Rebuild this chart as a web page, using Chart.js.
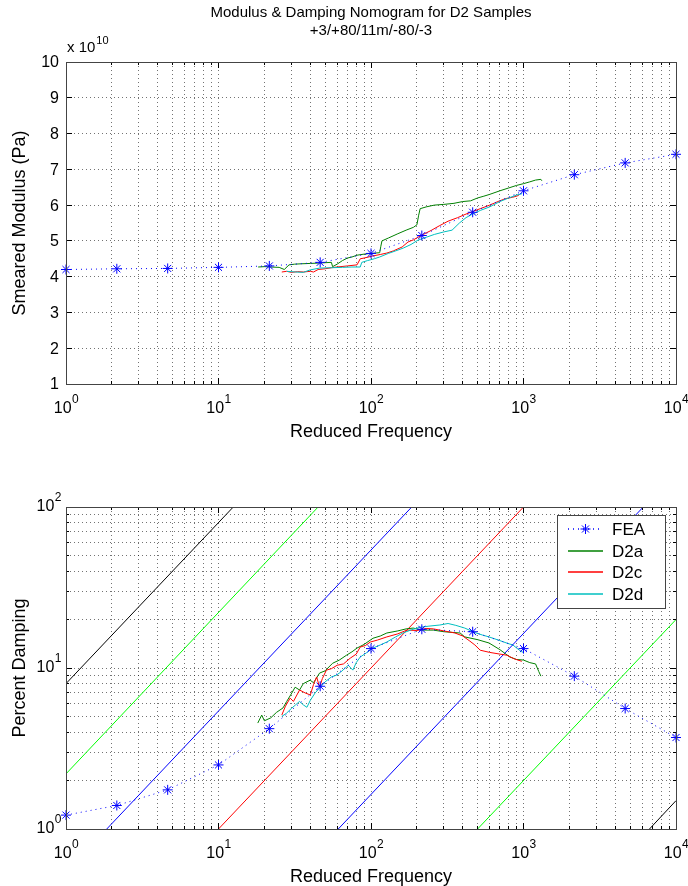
<!DOCTYPE html>
<html>
<head>
<meta charset="utf-8">
<script src="https://cdn.jsdelivr.net/npm/chart.js@4.4.1/dist/chart.umd.min.js"></script>
<style>
  body { margin: 0; background: #fff; }
  canvas { position: absolute; left: 0; }
</style>
</head>
<body>
<canvas id="modulus" width="688" height="443" style="top:0"></canvas>
<canvas id="damping" width="688" height="443" style="top:443px"></canvas>
<script>
// Texts
var titleLines = ['Modulus & Damping Nomogram for D2 Samples', '+3/+80/11m/-80/-3'];
var xTitle = 'Reduced Frequency';
var modTitle = 'Smeared Modulus (Pa)';
var dampTitle = 'Percent Damping';
var modScaleNote = ['x 10', '10'];
var seriesNames = ['FEA', 'D2a', 'D2c', 'D2d'];

// Ticks
var decadeSteps = [1, 2, 3, 4, 5, 6, 7, 8, 9];
var freqMajor = [1, 10, 100, 1000, 10000];
var freqExponents = ['0', '1', '2', '3', '4'];
var modTicks = [1, 2, 3, 4, 5, 6, 7, 8, 9, 10];
var dampMajor = [1, 10, 100];
var dampExponents = ['0', '1', '2'];

// FEA model (one point every 1/3 decade)
var feaFreq = [1, 2.154, 4.642, 10, 21.54, 46.42, 100, 215.4, 464.2, 1000, 2154, 4642, 10000];
var feaModulus = [4.2, 4.22, 4.23, 4.26, 4.3, 4.4, 4.65, 5.15, 5.8, 6.4, 6.85, 7.18, 7.42];
var feaDamping = [1.22, 1.4, 1.75, 2.5, 4.2, 7.7, 13.2, 17.4, 16.8, 13.2, 8.9, 5.6, 3.7];

// Measured modulus (freq, x1e10 Pa)
var d2aModulus = [[18.2, 4.27], [20, 4.28], [22, 4.27], [25, 4.26], [27, 4.2], [29, 4.33], [31.6, 4.35],
  [35, 4.36], [40, 4.37], [45, 4.38], [50, 4.39], [55, 4.4], [56, 4.28], [60, 4.35], [65, 4.45],
  [70, 4.52], [75, 4.55], [81, 4.6], [90, 4.63], [100, 4.65], [114, 4.67], [116, 4.85], [118, 5.0],
  [130, 5.08], [150, 5.2], [170, 5.3], [190, 5.38], [200, 5.45], [205, 5.7], [210, 5.9], [230, 5.95],
  [260, 6.0], [300, 6.02], [350, 6.05], [400, 6.1], [450, 6.12], [500, 6.2], [550, 6.25], [600, 6.3],
  [700, 6.4], [800, 6.48], [900, 6.55], [1000, 6.6], [1100, 6.65], [1200, 6.7], [1300, 6.72], [1320, 6.68]];
var d2cModulus = [[26, 4.13], [28, 4.15], [30, 4.12], [33, 4.14], [36, 4.13], [40, 4.15], [42, 4.13],
  [45, 4.2], [50, 4.22], [55, 4.25], [60, 4.27], [70, 4.3], [81, 4.33], [85, 4.5], [90, 4.52],
  [103, 4.58], [115, 4.62], [127, 4.66], [140, 4.72], [160, 4.83], [175, 4.97], [190, 5.03], [203, 5.1],
  [220, 5.18], [250, 5.3], [280, 5.42], [320, 5.55], [370, 5.65], [420, 5.75], [464, 5.82], [520, 5.9],
  [600, 6.0], [680, 6.1], [760, 6.18], [850, 6.22], [930, 6.27]];
var d2dModulus = [[28, 4.15], [32, 4.13], [36, 4.12], [40, 4.19], [46, 4.24], [55, 4.25], [65, 4.26],
  [75, 4.27], [85, 4.27], [87, 4.4], [95, 4.45], [105, 4.5], [114, 4.55], [130, 4.65], [145, 4.72],
  [163, 4.8], [183, 4.9], [203, 5.02], [230, 5.1], [260, 5.18], [300, 5.25], [340, 5.3], [380, 5.5],
  [420, 5.65], [464, 5.75], [520, 5.85], [600, 5.95], [700, 6.1], [800, 6.2], [900, 6.28], [980, 6.32]];

// Measured damping (freq, %)
var d2aDamping = [[18.1, 4.55], [19.2, 5.1], [20, 4.7], [22, 4.9], [24, 5.3], [26.5, 5.65], [28, 6.2],
  [30, 6.9], [31.8, 7.6], [34, 7.3], [36, 8.0], [39.9, 8.4], [42, 8.1], [46, 9.3], [50, 9.6], [56, 10.7],
  [62, 11.2], [69, 12.0], [75, 12.6], [81, 13.3], [90, 14.0], [103, 15.3], [115, 15.8], [127, 16.5],
  [150, 17.0], [170, 17.5], [189, 17.7], [215, 17.2], [256, 17.2], [300, 16.8], [384, 16.5], [412, 15.6],
  [500, 15.0], [594, 14.3], [700, 13.0], [814, 11.7], [900, 11.3], [1000, 11.2], [1100, 10.8],
  [1200, 10.6], [1260, 9.5], [1300, 8.9]];
var d2cDamping = [[26, 5.1], [27.5, 5.8], [29.5, 6.5], [31, 6.2], [34, 7.3], [37, 7.0], [40, 6.8],
  [42, 7.9], [44, 8.8], [46, 7.6], [48, 8.6], [51, 9.7], [55, 9.9], [60, 10.4], [66, 10.6], [73, 11.5],
  [80, 12.2], [85, 13.5], [92, 13.8], [99, 14.5], [110, 14.9], [127, 15.6], [150, 16.3], [172, 17.2],
  [200, 17.1], [230, 17.6], [256, 17.5], [300, 17.0], [355, 16.5], [400, 15.8], [440, 14.8], [480, 13.9],
  [520, 12.9], [600, 12.5], [700, 12.2], [780, 12.0], [870, 11.4], [975, 11.0]];
var d2dDamping = [[26, 5.0], [28, 5.25], [30, 5.6], [32, 5.9], [34, 6.2], [36, 5.9], [38, 5.7], [40, 6.3],
  [43, 7.0], [46, 7.5], [50, 8.2], [55, 8.8], [59, 9.0], [63, 9.4], [67, 9.9], [71, 10.4], [76, 9.7],
  [80, 10.8], [85, 11.7], [93, 12.4], [103, 13.3], [115, 13.9], [127, 14.5], [145, 15.6], [162, 16.5],
  [185, 17.3], [209, 17.9], [240, 18.2], [283, 18.5], [320, 18.9], [360, 18.4], [412, 17.7], [480, 16.6],
  [540, 16.0], [594, 15.6], [700, 14.8], [790, 14.2], [852, 13.9], [920, 13.1], [975, 12.6], [1000, 12.5]];

// Nomogram guide lines (end points read on the frame)
var guideBlackA = [[1, 8], [12.5, 100]];
var guideGreenA = [[1, 2.2], [45, 100]];
var guideBlueA = [[1.85, 1], [185, 100]];
var guideRed = [[10, 1], [1000, 100]];
var guideBlueB = [[61, 1], [6100, 100]];
var guideGreenB = [[500, 1], [10000, 20]];
var guideBlackB = [[6700, 1], [10000, 1.5]];

var FONT = '"Liberation Sans", Arial, sans-serif';

function toXY(pts) {
  return pts.map(function (p) { return { x: p[0], y: p[1] }; });
}
function logTickValues(majors) {
  var out = [];
  majors.forEach(function (m, i) {
    if (i < majors.length - 1) decadeSteps.forEach(function (s) { out.push(m * s); });
    else out.push(m);
  });
  return out;
}
function setTicks(values) {
  return function (scale) {
    scale.ticks = values.map(function (v) { return { value: v }; });
  };
}
function alignPx(p) { return Math.round(p - 0.5) + 0.5; }

function drawPower(ctx, exp, x, y, align) {
  ctx.font = '16px ' + FONT;
  var wb = ctx.measureText('10').width;
  ctx.font = '12px ' + FONT;
  var we = ctx.measureText(exp).width;
  var start = align === 'center' ? x - (wb + we) / 2 : x - (wb + we);
  ctx.textAlign = 'left';
  ctx.textBaseline = 'alphabetic';
  ctx.font = '16px ' + FONT;
  ctx.fillText('10', start, y);
  ctx.font = '12px ' + FONT;
  ctx.fillText(exp, start + wb + 0.5, y - 10);
}

// Matlab style frame: box, inward ticks, labels, titles, legend
function matlabAxes(o) {
  return {
    id: 'matlabAxes',
    afterDraw: function (chart) {
      var ctx = chart.ctx, a = chart.chartArea;
      var xs = chart.scales.x, ys = chart.scales.y;
      ctx.save();
      ctx.strokeStyle = '#000';
      ctx.lineWidth = 1;
      ctx.setLineDash([]);
      ctx.beginPath();
      xs.ticks.forEach(function (t) {
        var px = alignPx(xs.getPixelForValue(t.value));
        var len = freqMajor.indexOf(t.value) >= 0 ? 6 : 3;
        ctx.moveTo(px, a.bottom); ctx.lineTo(px, a.bottom - len);
        ctx.moveTo(px, a.top); ctx.lineTo(px, a.top + len);
      });
      ys.ticks.forEach(function (t) {
        var py = alignPx(ys.getPixelForValue(t.value));
        var len = o.yMajor.indexOf(t.value) >= 0 ? 6 : 3;
        ctx.moveTo(a.left, py); ctx.lineTo(a.left + len, py);
        ctx.moveTo(a.right, py); ctx.lineTo(a.right - len, py);
      });
      ctx.stroke();
      ctx.strokeStyle = '#444';
      ctx.strokeRect(alignPx(a.left), alignPx(a.top), Math.round(a.right - a.left), Math.round(a.bottom - a.top));

      ctx.fillStyle = '#000';
      // x tick labels
      freqMajor.forEach(function (v, i) {
        drawPower(ctx, freqExponents[i], xs.getPixelForValue(v), a.bottom + 29, 'center');
      });
      // y tick labels
      if (o.yLog) {
        o.yMajor.forEach(function (v, i) {
          drawPower(ctx, o.yExponents[i], a.left - 5, ys.getPixelForValue(v) + 4, 'right');
        });
      } else {
        ctx.font = '16px ' + FONT;
        ctx.textAlign = 'right';
        ctx.textBaseline = 'middle';
        o.yMajor.forEach(function (v) {
          ctx.fillText(String(v), a.left - 7, ys.getPixelForValue(v) + 1);
        });
      }
      // axis titles
      var cx = (a.left + a.right) / 2, cy = (a.top + a.bottom) / 2;
      ctx.font = '18px ' + FONT;
      ctx.textAlign = 'center';
      ctx.textBaseline = 'middle';
      ctx.fillText(xTitle, cx, a.bottom + 48);
      ctx.save();
      ctx.translate(20, cy);
      ctx.rotate(-Math.PI / 2);
      ctx.fillText(o.yTitle, 0, 0);
      ctx.restore();
      // chart title and exponent note
      if (o.title) {
        ctx.font = '15px ' + FONT;
        ctx.fillText(o.title[0], cx, 13);
        ctx.fillText(o.title[1], cx, 31);
      }
      if (o.note) {
        ctx.textAlign = 'left';
        ctx.textBaseline = 'alphabetic';
        ctx.font = '15px ' + FONT;
        ctx.fillText(o.note[0], a.left + 1, a.top - 10);
        var w = ctx.measureText(o.note[0]).width;
        ctx.font = '11px ' + FONT;
        ctx.fillText(o.note[1], a.left + 2 + w, a.top - 18);
      }
      // legend
      if (o.legend) {
        var lw = 108, lh = 93;
        var lx = a.right - 11 - lw, ly = a.top + 8;
        ctx.fillStyle = '#fff';
        ctx.fillRect(lx, ly, lw, lh);
        ctx.strokeStyle = '#444';
        ctx.strokeRect(alignPx(lx), alignPx(ly), lw, lh);
        o.legend.forEach(function (dsIndex, i) {
          var ds = chart.data.datasets[dsIndex];
          var y = Math.round(ly + 14 + i * 21.7);
          ctx.strokeStyle = ds.borderColor;
          ctx.lineWidth = 1.5;
          ctx.setLineDash(ds.borderDash || []);
          ctx.beginPath();
          ctx.moveTo(lx + 11, y); ctx.lineTo(lx + 46, y);
          ctx.stroke();
          ctx.setLineDash([]);
          ctx.lineWidth = 1;
          if (ds.pointRadius > 0) {
            Chart.helpers.drawPoint(ctx, { pointStyle: ds.pointStyle, radius: ds.pointRadius, rotation: 0, borderWidth: 1 }, lx + 28.5, y);
          }
          ctx.fillStyle = '#000';
          ctx.font = '17px ' + FONT;
          ctx.textAlign = 'left';
          ctx.textBaseline = 'middle';
          ctx.fillText(ds.label, lx + 55, y + 1);
        });
      }
      ctx.restore();
    }
  };
}

function feaSet(values) {
  return {
    label: seriesNames[0], order: 0, clip: false,
    data: feaFreq.map(function (f, i) { return { x: f, y: values[i] }; }),
    borderColor: '#0000ff', borderWidth: 1, borderDash: [1, 4],
    pointStyle: 'star', pointRadius: 5, pointBorderColor: '#0000ff', pointBorderWidth: 1
  };
}
function curveSet(name, pts, color, order) {
  return { label: name, order: order, data: toXY(pts), borderColor: color, borderWidth: 1, pointRadius: 0 };
}

function gridOpts() {
  return {
    grid: { color: 'rgba(0,0,0,0.55)', lineWidth: 1, drawTicks: false },
    border: { display: false, dash: [1, 3] },
    ticks: { display: false }
  };
}
function xScale() {
  return Object.assign({
    type: 'logarithmic', min: 1, max: 10000,
    afterBuildTicks: setTicks(logTickValues(freqMajor)),
    afterFit: function (s) { s.height = 0; }
  }, gridOpts());
}
var baseOptions = {
  responsive: false, animation: false, devicePixelRatio: 1, events: [],
  plugins: { legend: { display: false }, tooltip: { enabled: false } },
  elements: { line: { tension: 0 } }
};

new Chart(document.getElementById('modulus'), {
  type: 'line',
  data: {
    datasets: [
      feaSet(feaModulus),
      curveSet(seriesNames[1], d2aModulus, '#008000', 3),
      curveSet(seriesNames[2], d2cModulus, '#ff0000', 2),
      curveSet(seriesNames[3], d2dModulus, '#00bfbf', 1)
    ]
  },
  options: Object.assign({}, baseOptions, {
    layout: { padding: { left: 66, right: 12, top: 62, bottom: 59 } },
    scales: {
      x: xScale(),
      y: Object.assign({
        type: 'linear', min: 1, max: 10,
        afterBuildTicks: setTicks(modTicks),
        afterFit: function (s) { s.width = 0; }
      }, gridOpts())
    }
  }),
  plugins: [matlabAxes({ yMajor: modTicks, yLog: false, yTitle: modTitle, title: titleLines, note: modScaleNote })]
});

function guideSet(pts, color) {
  return { label: '', order: 5, data: toXY(pts), borderColor: color, borderWidth: 1, pointRadius: 0 };
}

new Chart(document.getElementById('damping'), {
  type: 'line',
  data: {
    datasets: [
      feaSet(feaDamping),
      curveSet(seriesNames[1], d2aDamping, '#008000', 3),
      curveSet(seriesNames[2], d2cDamping, '#ff0000', 2),
      curveSet(seriesNames[3], d2dDamping, '#00bfbf', 1),
      guideSet(guideBlackA, '#000000'),
      guideSet(guideGreenA, '#00ff00'),
      guideSet(guideBlueA, '#0000ff'),
      guideSet(guideRed, '#ff0000'),
      guideSet(guideBlueB, '#0000ff'),
      guideSet(guideGreenB, '#00ff00'),
      guideSet(guideBlackB, '#000000')
    ]
  },
  options: Object.assign({}, baseOptions, {
    layout: { padding: { left: 66, right: 12, top: 64, bottom: 57 } },
    scales: {
      x: xScale(),
      y: Object.assign({
        type: 'logarithmic', min: 1, max: 100,
        afterBuildTicks: setTicks(logTickValues(dampMajor)),
        afterFit: function (s) { s.width = 0; }
      }, gridOpts())
    }
  }),
  plugins: [matlabAxes({ yMajor: dampMajor, yExponents: dampExponents, yLog: true, yTitle: dampTitle, legend: [0, 1, 2, 3] })]
});
</script>
</body>
</html>
